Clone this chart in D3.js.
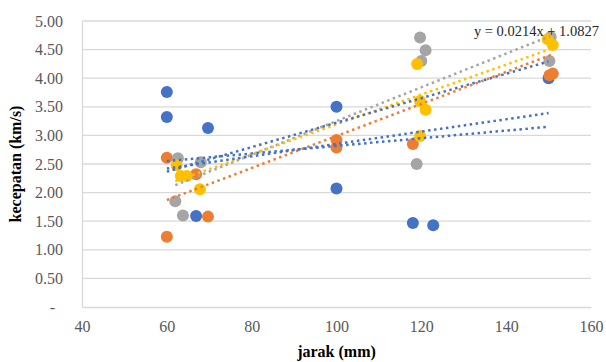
<!DOCTYPE html>
<html>
<head>
<meta charset="utf-8">
<script src="https://cdn.jsdelivr.net/npm/d3@7"></script>
<style>
  body { margin: 0; background: #fff; }
  svg { display: block; font-family: "Liberation Serif", "Times New Roman", serif; }
</style>
</head>
<body>
<svg id="chart"></svg>
<script>
// scatter points per series: [jarak, kecepatan]
var series_names = ["s1", "s2", "s3", "s4"];
var series_colors = ["#4472C4", "#ED7D31", "#A5A5A5", "#FFC000"];

var blue_pts = [[60, 3.76], [60, 3.32], [69.7, 3.13], [66.9, 1.59], [100, 3.50], [100, 2.07], [118, 1.47], [122.8, 1.43], [150, 4.00]];
var orange_pts = [[60, 2.61], [66.9, 2.32], [69.7, 1.58], [60, 1.23], [100, 2.92], [100, 2.79], [118, 2.85], [150.2, 4.05], [151, 4.08]];
var gray_pts = [[62.6, 2.60], [68, 2.53], [62, 1.85], [63.8, 1.60], [119.7, 4.71], [121, 4.49], [120, 4.30], [118.9, 2.50], [150.5, 4.72], [150.2, 4.30]];
var yellow_pts = [[62.3, 2.48], [63.3, 2.29], [64.7, 2.29], [67.8, 2.06], [119, 4.25], [119.7, 3.60], [121, 3.45], [119.7, 2.99], [149.8, 4.68], [151, 4.58]];

// linear trendlines: slope, intercept, x range
var trend_color = ["#A5A5A5", "#FFC000", "#ED7D31", "#4472C4", "#4472C4", "#4472C4"];
var trend_slope = [0.0295, 0.0261, 0.0280, 0.0214, 0.01078, 0.00667];
var trend_icept = [0.301, 0.582, 0.190, 1.0827, 1.773, 2.150];
var trend_from = [62, 62, 60, 60, 60, 60];
var trend_to = [150.5, 151, 151, 150, 150, 150];

var x_ticks = [40, 60, 80, 100, 120, 140, 160];
var y_ticks = [0, 0.5, 1, 1.5, 2, 2.5, 3, 3.5, 4, 4.5, 5];
var equation = "y = 0.0214x + 1.0827";

var width = 606, height = 362;
var margin = {top: 21, right: 15, bottom: 55, left: 82};

var svg = d3.select("#chart")
    .attr("width", width)
    .attr("height", height);

var x = d3.scaleLinear()
    .domain([40, 160])
    .range([margin.left, width - margin.right]);

var y = d3.scaleLinear()
    .domain([0, 5])
    .range([height - margin.bottom, margin.top]);

// gridlines
svg.append("g")
    .selectAll("line")
    .data(y_ticks.filter(d => d > 0))
    .enter().append("line")
    .attr("x1", x(40))
    .attr("x2", x(160))
    .attr("y1", d => y(d))
    .attr("y2", d => y(d))
    .attr("stroke", "#d9d9d9")
    .attr("stroke-width", 1.3);

var fmt = d3.format(".2f");

var yAxis = g => g
    .attr("transform", `translate(${margin.left},0)`)
    .call(d3.axisLeft(y).tickValues(y_ticks).tickSize(0).tickPadding(19)
        .tickFormat(d => d == 0 ? "-" : fmt(d)))
    .call(g => g.select(".domain").attr("stroke", "#d9d9d9").attr("stroke-width", 1.3));

var xAxis = g => g
    .attr("transform", `translate(0,${height - margin.bottom})`)
    .call(d3.axisBottom(x).tickValues(x_ticks).tickSize(0).tickPadding(14))
    .call(g => g.select(".domain").attr("stroke", "#d9d9d9").attr("stroke-width", 1.3));

svg.append("g").call(yAxis);
svg.append("g").call(xAxis);

svg.selectAll(".tick text")
    .style("font-family", "'Liberation Serif', serif")
    .style("font-size", "16px")
    .attr("fill", "#595959");

svg.selectAll(".tick text").filter(d => d === 0 && this)
    .attr("dx", -8);

// points
var all_pts = [blue_pts, orange_pts, gray_pts, yellow_pts];
all_pts.forEach(function(pts, i) {
    svg.append("g")
        .attr("fill", series_colors[i])
        .selectAll("circle")
        .data(pts)
        .enter().append("circle")
        .attr("cx", d => x(d[0]))
        .attr("cy", d => y(d[1]))
        .attr("r", 6);
});

// trendlines
var trends = trend_color.map(function(c, i) {
    return {color: c, m: trend_slope[i], b: trend_icept[i], x0: trend_from[i], x1: trend_to[i]};
});

svg.append("g")
    .selectAll("line")
    .data(trends)
    .enter().append("line")
    .attr("x1", d => x(d.x0))
    .attr("y1", d => y(d.m * d.x0 + d.b))
    .attr("x2", d => x(d.x1))
    .attr("y2", d => y(d.m * d.x1 + d.b))
    .attr("stroke", d => d.color)
    .attr("stroke-width", 2.5)
    .attr("stroke-dasharray", "2.5,3.5");

// equation label
svg.append("text")
    .attr("x", 599)
    .attr("y", 36)
    .attr("text-anchor", "end")
    .style("font-size", "14.5px")
    .attr("fill", "#262626")
    .text(equation);

// axis titles
svg.append("text")
    .attr("x", (margin.left + width - margin.right) / 2)
    .attr("y", 357)
    .attr("text-anchor", "middle")
    .style("font-size", "16px")
    .style("font-weight", "bold")
    .attr("fill", "#000")
    .text("jarak (mm)");

svg.append("text")
    .attr("transform", `translate(21,${(margin.top + height - margin.bottom) / 2}) rotate(-90)`)
    .attr("text-anchor", "middle")
    .style("font-size", "16px")
    .style("font-weight", "bold")
    .attr("fill", "#000")
    .text("kecepatan (km/s)");
</script>
</body>
</html>
